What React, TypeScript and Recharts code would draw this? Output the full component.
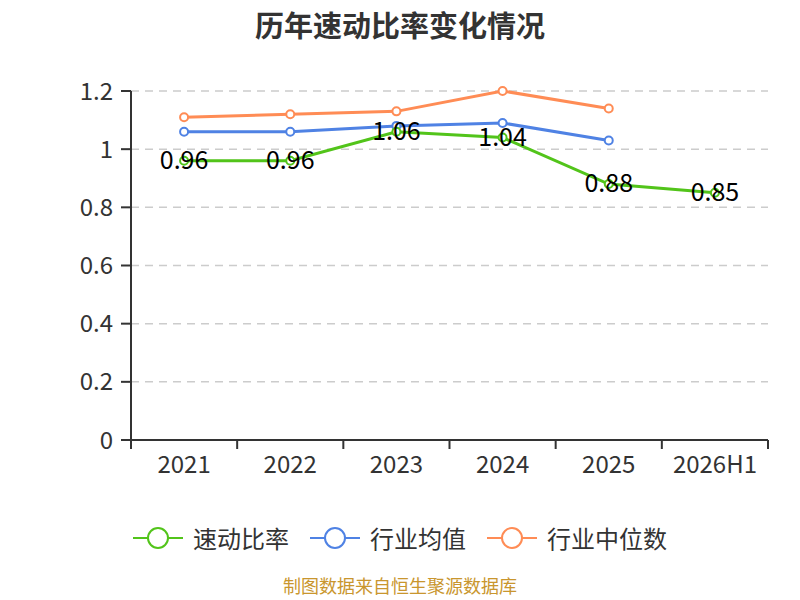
import React from "react";
import { CartesianGrid, LabelList, Line, LineChart, XAxis, YAxis } from "recharts";

const YEARS = ["2021", "2022", "2023", "2024", "2025", "2026H1"];
const QUICK_RATIO = [0.96, 0.96, 1.06, 1.04, 0.88, 0.85];
const INDUSTRY_AVG = [1.06, 1.06, 1.08, 1.09, 1.03, null];
const INDUSTRY_MEDIAN = [1.11, 1.12, 1.13, 1.2, 1.14, null];
const Y_TICKS = [0, 0.2, 0.4, 0.6, 0.8, 1, 1.2];

const SERIES = [
  { key: "quick", label: "速动比率", color: "#52c41a" },
  { key: "avg", label: "行业均值", color: "#4f82e4" },
  { key: "median", label: "行业中位数", color: "#ff8c55" },
];

const FONT = '"Noto Sans CJK SC", "Noto Sans", sans-serif';

const data = YEARS.map((year, i) => ({
  x: i + 0.5,
  year,
  quick: QUICK_RATIO[i],
  avg: INDUSTRY_AVG[i],
  median: INDUSTRY_MEDIAN[i],
}));

// boundary ticks on whole numbers, year labels on the half steps
const X_TICKS = Array.from({ length: YEARS.length * 2 + 1 }, (_, i) => i / 2);

function XTick(props: any) {
  const { x, y, payload } = props;
  const v = payload.value as number;
  if (Number.isInteger(v)) {
    return <line x1={x} x2={x} y1={y - 9} y2={y} stroke="#333" strokeWidth={2} />;
  }
  return (
    <text x={x} y={y + 24} textAnchor="middle" fill="#333" fontSize={24} fontFamily={FONT}>
      {YEARS[Math.floor(v)]}
    </text>
  );
}

function ValueLabel(props: any) {
  const { x, y, value } = props;
  if (value == null) return null;
  return (
    <text x={x} y={y - 3} textAnchor="middle" dominantBaseline="central" fill="#000" fontSize={25} fontFamily={FONT}>
      {value}
    </text>
  );
}

function LegendIcon({ color }: { color: string }) {
  return (
    <svg width={50} height={26} style={{ display: "block" }}>
      <line x1={0} x2={50} y1={13} y2={13} stroke={color} strokeWidth={2} />
      <circle cx={25} cy={13} r={10} fill="#fff" stroke={color} strokeWidth={2} />
    </svg>
  );
}

export default function App() {
  return (
    <div style={{ position: "absolute", left: 0, top: 0, width: 800, height: 600, background: "#fff", fontFamily: FONT }}>
      <div
        style={{
          position: "absolute",
          top: 4,
          left: 0,
          width: 800,
          textAlign: "center",
          fontSize: 29,
          fontWeight: "bold",
          color: "#333",
          lineHeight: "40px",
        }}
      >
        历年速动比率变化情况
      </div>
      <LineChart width={800} height={600} data={data} margin={{ top: 91, right: 32, bottom: 0, left: 0 }}>
        <CartesianGrid vertical={false} stroke="#ccc" strokeDasharray="8 6" strokeWidth={1.5} />
        <XAxis
          dataKey="x"
          type="number"
          domain={[0, YEARS.length]}
          ticks={X_TICKS}
          interval={0}
          height={160}
          tickLine={false}
          tickSize={9}
          tickMargin={0}
          tick={XTick}
          axisLine={{ stroke: "#333", strokeWidth: 2 }}
        />
        <YAxis
          domain={[0, 1.2]}
          ticks={Y_TICKS}
          width={131}
          tickSize={10}
          tickMargin={8}
          tickFormatter={(v: number) => String(Number(v.toFixed(1)))}
          tick={{ fill: "#333", fontSize: 24, fontFamily: FONT }}
          tickLine={{ stroke: "#333", strokeWidth: 2 }}
          axisLine={{ stroke: "#333", strokeWidth: 2 }}
        />
        <Line
          dataKey="median"
          stroke="#ff8c55"
          strokeWidth={3}
          dot={{ r: 4, fill: "#fff", stroke: "#ff8c55", strokeWidth: 2 }}
          activeDot={false}
          isAnimationActive={false}
        />
        <Line
          dataKey="avg"
          stroke="#4f82e4"
          strokeWidth={3}
          dot={{ r: 4, fill: "#fff", stroke: "#4f82e4", strokeWidth: 2 }}
          activeDot={false}
          isAnimationActive={false}
        />
        <Line
          dataKey="quick"
          stroke="#52c41a"
          strokeWidth={3}
          dot={{ r: 4, fill: "#fff", stroke: "#52c41a", strokeWidth: 2 }}
          activeDot={false}
          isAnimationActive={false}
        >
          <LabelList dataKey="quick" content={ValueLabel} />
        </Line>
      </LineChart>
      <div
        style={{
          position: "absolute",
          top: 525,
          left: 0,
          width: 800,
          display: "flex",
          justifyContent: "center",
          gap: 21,
        }}
      >
        {SERIES.map((s) => (
          <div key={s.key} style={{ display: "flex", alignItems: "center", gap: 10 }}>
            <LegendIcon color={s.color} />
            <span style={{ fontSize: 24, color: "#333", lineHeight: "26px" }}>{s.label}</span>
          </div>
        ))}
      </div>
      <div
        style={{
          position: "absolute",
          top: 575,
          left: 0,
          width: 800,
          textAlign: "center",
          fontSize: 18,
          lineHeight: "20px",
          color: "#c9962e",
        }}
      >
        制图数据来自恒生聚源数据库
      </div>
    </div>
  );
}
